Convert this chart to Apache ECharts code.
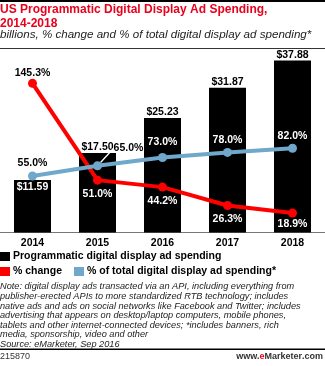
<!DOCTYPE html>
<html><head><meta charset="utf-8">
<script src="https://cdn.jsdelivr.net/npm/echarts@6/dist/echarts.min.js"></script>
<style>html,body{margin:0;padding:0;background:#fff}#c{width:325px;height:366px}</style>
</head><body><div id="c"></div>
<script>
var categories = ['2014', '2015', '2016', '2017', '2018'];
var spending = [11.59, 17.50, 25.23, 31.87, 37.88];
var pctChange = [145.3, 51.0, 44.2, 26.3, 18.9];
var pctTotal = [55.0, 65.0, 73.0, 78.0, 82.0];

var FONT = '"Liberation Sans", Arial, sans-serif';
var chart = echarts.init(document.getElementById('c'), null, {renderer: 'canvas'});

var barData = spending.map(function (v, i) {
  if (i === 0) return {value: v, label: {position: 'insideTop', color: '#fff', distance: 2}};
  return {value: v};
});
var redData = pctChange.map(function (v, i) {
  if (i === 0) return {value: v, label: {position: 'top', color: '#000', distance: 0}};
  if (i === 4) return {value: v, label: {distance: 1}};
  return {value: v};
});
var blueData = pctTotal.map(function (v, i) {
  if (i === 0) return {value: v, label: {color: '#000'}, labelLine: {show: false}};
  if (i === 1) return {value: v, label: {color: '#000'}, labelLine: {show: true, lineStyle: {color: '#fff', width: 1.3}}};
  if (i === 2) return {value: v, label: {distance: 5}, labelLine: {show: false}};
  return {value: v, labelLine: {show: false}};
});

chart.setOption({
  animation: false,
  title: [
    {text: 'US Programmatic Digital Display Ad Spending,\n2014-2018', left: 0, top: 3, padding: 0,
     textStyle: {fontFamily: FONT, fontSize: 12, fontWeight: 'bold', color: '#e8001c', lineHeight: 13.5}},
    {text: 'billions, % change and % of total digital display ad spending*', left: 0, top: 29, padding: 0,
     textStyle: {fontFamily: FONT, fontSize: 11.6, fontStyle: 'italic', fontWeight: 'normal', color: '#222'}},
    {text: 'Note: digital display ads transacted via an API, including everything from\npublisher-erected APIs to more standardized RTB technology; includes\nnative ads and ads on social networks like Facebook and Twitter; includes\nadvertising that appears on desktop/laptop computers, mobile phones,\ntablets and other internet-connected devices; *includes banners, rich\nmedia, sponsorship, video and other\nSource: eMarketer, Sep 2016',
     left: 0, top: 282, padding: 0,
     textStyle: {fontFamily: FONT, fontSize: 9.2, fontStyle: 'italic', fontWeight: 'normal', color: '#222', lineHeight: 9.6}},
    {text: '215870', left: 0, top: 352, padding: 0,
     textStyle: {fontFamily: FONT, fontSize: 9, fontWeight: 'normal', color: '#333'}},
    {text: '{a|www.}{b|e}{c|Marketer}{a|.com}', right: 2, top: 352, padding: 0,
     textStyle: {rich: {
       a: {fontFamily: FONT, fontSize: 9, color: '#333'},
       b: {fontFamily: FONT, fontSize: 9, fontWeight: 'bold', color: '#e8001c'},
       c: {fontFamily: FONT, fontSize: 9, fontWeight: 'bold', color: '#333'}
     }}}
  ],
  graphic: [
    {type: 'rect', shape: {x: 0, y: 0, width: 325, height: 2}, style: {fill: '#000'}},
    {type: 'rect', shape: {x: 0, y: 48, width: 325, height: 1}, style: {fill: '#333'}},
    {type: 'rect', shape: {x: 0, y: 348.5, width: 325, height: 1.5}, style: {fill: '#000'}}
  ],
  legend: [
    {data: ['Programmatic digital display ad spending'], left: 0, top: 251, itemWidth: 10, itemHeight: 9, icon: 'rect',
     textStyle: {fontFamily: FONT, fontSize: 10.5, fontWeight: 'bold', color: '#000', padding: [0, 0, 0, -2]}, padding: 0},
    {data: ['% change', '% of total digital display ad spending*'], left: 0, top: 266, itemWidth: 10, itemHeight: 9, icon: 'rect', itemGap: 12,
     textStyle: {fontFamily: FONT, fontSize: 10.5, fontWeight: 'bold', color: '#000', padding: [0, 0, 0, -2]}, padding: 0}
  ],
  grid: {left: -8.5, width: 339.5, top: 60, height: 172.5, containLabel: false},
  xAxis: {
    type: 'category', data: categories,
    axisLine: {lineStyle: {color: '#777', width: 1}},
    axisTick: {show: false},
    axisLabel: {fontFamily: FONT, fontSize: 10.5, fontWeight: 'bold', color: '#000', margin: 5}
  },
  yAxis: [
    {type: 'value', min: 0, max: 38, show: false},
    {type: 'value', min: 0, max: 168, show: false}
  ],
  series: [
    {name: 'Programmatic digital display ad spending', type: 'bar', data: barData, barWidth: 37,
     itemStyle: {color: '#000'},
     label: {show: true, position: 'top', distance: 0, fontFamily: FONT, fontSize: 10.5, fontWeight: 'bold', color: '#000',
       formatter: function (p) { return '$' + p.value.toFixed(2); }}},
    {name: '% change', type: 'line', yAxisIndex: 1, data: redData,
     itemStyle: {color: '#ff0000'}, lineStyle: {color: '#ff0000', width: 4},
     symbol: 'circle', symbolSize: 9,
     label: {show: true, position: 'bottom', distance: 3.5, fontFamily: FONT, fontSize: 10.5, fontWeight: 'bold', color: '#fff',
       formatter: function (p) { return p.value.toFixed(1) + '%'; }}},
    {name: '% of total digital display ad spending*', type: 'line', yAxisIndex: 1, data: blueData,
     itemStyle: {color: '#6fa8cb'}, lineStyle: {color: '#6fa8cb', width: 4},
     symbol: 'circle', symbolSize: 9,
     label: {show: true, position: 'top', distance: 2.5, fontFamily: FONT, fontSize: 10.5, fontWeight: 'bold', color: '#fff',
       formatter: function (p) { return p.value.toFixed(1) + '%'; }},
     labelLine: {show: true, lineStyle: {color: '#fff', width: 1.3}},
     labelLayout: function (p) {
       if (p.dataIndex === 1) return {dx: 31, dy: -5};
       return {};
     }}
  ]
});
</script></body></html>
